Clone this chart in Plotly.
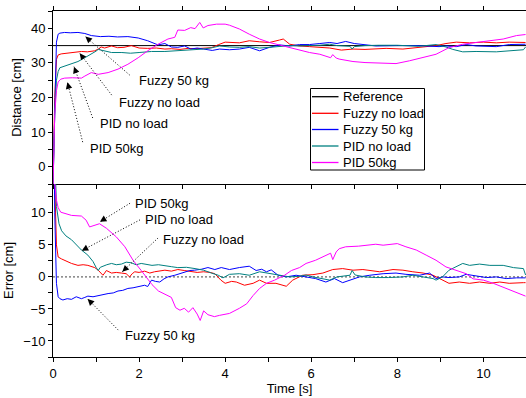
import math
import plotly.graph_objects as go

FONT = "Arial, Liberation Sans, sans-serif"

# ---------------- data ----------------
ref_t = [0, 11]
ref_d = [35, 35]

# Distance panel
fz0_t = [0, 0.04, 0.08, 0.12, 0.19, 0.3, 0.43, 0.55, 0.66, 0.8, 0.97, 1.05, 1.12, 1.2, 1.36, 1.5, 1.65, 1.82, 2.0, 2.2, 2.4, 2.6, 2.75, 2.95, 3.14, 3.3, 3.5, 3.68, 3.85, 4.0, 4.33, 4.56, 4.8, 5.03, 5.26, 5.35, 5.5, 5.73, 5.96, 6.2, 6.43, 6.7, 6.97, 7.25, 7.5, 7.74, 8.13, 8.52, 8.9, 9.13, 9.37, 9.68, 10.0, 10.3, 10.6, 10.98]
fz0_d = [-6, 20, 31, 32.3, 32.6, 32.8, 33.0, 33.1, 33.3, 33.2, 33.5, 34.0, 34.6, 34.3, 34.9, 34.4, 34.5, 35.0, 34.3, 34.2, 34.3, 34.0, 34.1, 33.9, 34.2, 34.1, 34.3, 34.4, 35.3, 36.0, 35.8, 36.4, 36.1, 35.9, 36.6, 36.9, 35.4, 34.9, 34.7, 34.4, 34.3, 33.7, 34.0, 33.9, 34.1, 34.2, 34.0, 34.4, 35.0, 35.6, 36.0, 35.8, 36.0, 35.8, 36.0, 35.9]

fz50_t = [0, 0.04, 0.08, 0.12, 0.16, 0.27, 0.4, 0.58, 0.74, 0.89, 1.0, 1.1, 1.3, 1.5, 1.74, 1.98, 2.2, 2.44, 2.6, 2.75, 2.9, 3.06, 3.2, 3.35, 3.5, 3.7, 3.87, 4.1, 4.33, 4.56, 4.8, 5.03, 5.26, 5.5, 5.73, 5.96, 6.2, 6.43, 6.6, 6.8, 7.0, 7.25, 7.5, 8.0, 8.5, 8.97, 9.13, 9.37, 9.6, 9.83, 10.3, 10.6, 10.98]
fz50_d = [-6, 20, 36, 38.3, 38.6, 38.8, 38.7, 38.8, 38.5, 37.9, 37.8, 37.6, 37.7, 37.5, 37.6, 37.2, 36.4, 35.2, 35.6, 34.6, 34.5, 34.9, 34.0, 34.3, 34.0, 33.6, 34.0, 33.8, 34.0, 34.5, 33.5, 34.5, 35.2, 34.9, 35.3, 35.3, 35.6, 35.9, 35.6, 36.2, 35.6, 35.2, 34.9, 35.0, 35.0, 34.7, 34.9, 34.7, 35.3, 34.9, 34.7, 35.3, 35.4]

pid0_t = [0, 0.04, 0.08, 0.12, 0.16, 0.27, 0.43, 0.58, 0.74, 0.89, 1.0, 1.05, 1.2, 1.36, 1.6, 1.8, 2.0, 2.29, 2.6, 2.9, 3.3, 3.5, 3.7, 3.87, 4.1, 4.33, 4.56, 4.8, 5.03, 5.26, 5.5, 5.73, 6.0, 6.2, 6.43, 6.6, 6.9, 6.95, 7.0, 7.25, 7.56, 8.0, 8.5, 8.9, 9.13, 9.29, 9.52, 9.83, 10.3, 10.7, 10.93, 10.98]
pid0_d = [-6, 15, 25, 27.5, 28.6, 29.1, 29.6, 30.4, 31.5, 32.5, 33.4, 33.9, 33.4, 33.0, 33.0, 32.8, 33.0, 33.3, 33.3, 33.5, 33.7, 34.0, 34.4, 34.9, 34.6, 34.5, 34.7, 34.3, 34.5, 34.8, 35.0, 34.9, 35.0, 35.1, 35.4, 35.0, 34.8, 34.0, 34.7, 35.0, 35.1, 35.1, 34.8, 35.3, 34.6, 33.9, 33.2, 33.3, 33.2, 33.6, 33.8, 34.6]

pid50_t = [0, 0.04, 0.08, 0.12, 0.18, 0.27, 0.45, 0.66, 0.74, 0.89, 1.05, 1.28, 1.51, 1.74, 1.98, 2.2, 2.44, 2.67, 2.83, 2.9, 3.06, 3.2, 3.3, 3.41, 3.49, 3.6, 3.8, 4.0, 4.1, 4.33, 4.56, 4.8, 5.03, 5.26, 5.5, 5.73, 5.96, 6.2, 6.34, 6.45, 6.5, 6.58, 6.65, 6.97, 7.25, 7.56, 7.97, 8.28, 8.59, 8.9, 9.2, 9.52, 9.83, 10.15, 10.46, 10.77, 10.98]
pid50_d = [-6, 15, 22, 24.5, 25.3, 25.6, 25.7, 25.6, 26.2, 27.2, 26.7, 27.2, 28.2, 29.6, 31.5, 33.5, 35.4, 36.9, 37.4, 39.5, 39.4, 40.2, 39.9, 41.7, 40.1, 40.8, 41.2, 41.2, 40.9, 39.8, 38.3, 36.9, 35.9, 35.2, 34.6, 33.7, 33.0, 32.5, 32.0, 31.5, 32.4, 31.4, 31.1, 30.4, 30.1, 30.0, 29.8, 30.6, 31.5, 32.5, 34.4, 35.4, 35.9, 36.4, 36.9, 37.9, 38.2]

# Error panel
zero_t = [0, 11]
zero_e = [0, 0]

fz0e_t = [0, 0.04, 0.08, 0.12, 0.2, 0.27, 0.43, 0.58, 0.7, 0.81, 0.97, 1.05, 1.16, 1.2, 1.24, 1.36, 1.47, 1.59, 1.7, 1.78, 1.84, 1.9, 2.0, 2.13, 2.25, 2.36, 2.48, 2.6, 2.75, 2.9, 3.05, 3.2, 3.35, 3.5, 3.65, 3.76, 3.9, 4.0, 4.15, 4.26, 4.45, 4.65, 4.8, 4.96, 5.18, 5.42, 5.57, 5.8, 6.04, 6.27, 6.5, 6.73, 6.97, 7.2, 7.43, 7.59, 7.9, 8.13, 8.36, 8.6, 8.83, 9.07, 9.2, 9.44, 9.68, 9.91, 10.15, 10.38, 10.6, 10.93, 10.98]
fz0e_e = [41, 15, 5, 3.1, 2.8, 2.6, 2.1, 1.8, 1.9, 1.8, 1.45, 1.05, 0.26, 0.6, 1.0, 0.6, 0.7, 0.6, 0.5, 0.0, 0.5, 0.8, 0.7, 0.9, 0.6, 0.8, 0.9, 1.05, 0.9, 1.15, 1.0, 0.9, 0.7, 0.8, 0.7, 0.5, -0.5, -1.0, -0.7, -0.8, -1.3, -1.0, -0.5, -1.0, -1.0, -1.46, -0.5, 0.26, 0.35, 0.6, 1.15, 1.3, 1.05, 1.15, 0.9, 0.8, 1.15, 1.05, 0.8, 0.6, 0.26, -0.5, -1.0, -0.8, -1.0, -0.8, -1.0, -0.8, -1.0, -0.9, -0.9]

fz50e_t = [0, 0.04, 0.08, 0.12, 0.16, 0.23, 0.33, 0.43, 0.54, 0.66, 0.74, 0.81, 0.93, 1.05, 1.17, 1.28, 1.4, 1.51, 1.62, 1.74, 1.86, 1.98, 2.13, 2.2, 2.29, 2.38, 2.48, 2.58, 2.67, 2.83, 2.95, 3.06, 3.18, 3.29, 3.45, 3.6, 3.76, 3.91, 4.1, 4.33, 4.56, 4.72, 4.85, 4.96, 5.07, 5.23, 5.42, 5.65, 5.88, 6.1, 6.34, 6.54, 6.73, 6.93, 7.12, 7.36, 7.67, 7.97, 8.2, 8.52, 8.75, 8.9, 9.05, 9.2, 9.44, 9.6, 9.83, 10.07, 10.3, 10.53, 10.77, 10.98]
fz50e_e = [41, 10, -1, -3.1, -3.4, -3.6, -3.4, -3.5, -3.1, -3.4, -3.2, -3.0, -3.1, -2.9, -2.8, -2.6, -2.5, -2.2, -2.1, -1.8, -1.7, -1.56, -1.3, -1.5, -0.5, -0.7, -0.8, -0.3, 0, 0.26, 0.5, 0.8, 1.0, 1.05, 1.2, 1.46, 1.15, 1.46, 1.15, 1.46, 1.67, 1.0, 1.2, 0.8, 1.1, 0.26, 0, 0.26, 0, -0.26, -0.8, -0.26, -0.9, -0.5, 0, 0.26, 0.5, 0.6, 0.4, 0.26, 0.6, -0.26, 0, -0.1, 0, 0.4, 0.1, -0.1, 0, -0.26, -0.15, -0.15]

pid0e_t = [0, 0.04, 0.08, 0.14, 0.2, 0.3, 0.43, 0.55, 0.66, 0.81, 0.93, 1.0, 1.05, 1.1, 1.16, 1.25, 1.36, 1.47, 1.59, 1.7, 1.82, 1.93, 2.05, 2.17, 2.3, 2.45, 2.6, 2.75, 2.9, 3.1, 3.3, 3.5, 3.68, 3.84, 3.95, 4.1, 4.33, 4.56, 4.8, 5.03, 5.26, 5.5, 5.73, 5.88, 6.04, 6.27, 6.43, 6.6, 6.9, 6.95, 7.02, 7.25, 7.5, 7.8, 8.13, 8.36, 8.6, 8.83, 8.9, 9.05, 9.2, 9.37, 9.52, 9.68, 9.91, 10.15, 10.46, 10.7, 10.93, 10.98]
pid0e_e = [41, 20, 11, 8.3, 7.2, 6.4, 5.8, 5.0, 4.2, 3.4, 2.4, 1.5, 1.0, 1.5, 1.7, 1.9, 2.1, 1.9, 2.0, 2.3, 2.2, 1.9, 2.1, 2.0, 1.8, 1.9, 1.7, 1.6, 1.45, 1.5, 1.3, 1.05, 0.6, 0.26, -0.15, 0.4, 0.5, 0.26, 0.8, 0.5, 0.26, 0, 0.1, 0.3, 0, -0.26, -0.5, 0, 0.26, 1.0, 0.3, 0, -0.1, -0.1, 0.0, 0.26, 0, -0.26, -0.5, 0, 1.04, 1.56, 2.1, 1.8, 2.0, 1.8, 1.8, 1.45, 1.3, 0.3]

pid50e_t = [0, 0.04, 0.08, 0.12, 0.18, 0.3, 0.43, 0.66, 0.77, 0.85, 0.97, 1.08, 1.24, 1.47, 1.67, 1.86, 2.05, 2.17, 2.3, 2.45, 2.6, 2.75, 2.85, 2.95, 3.05, 3.15, 3.25, 3.35, 3.42, 3.5, 3.6, 3.75, 3.87, 4.1, 4.33, 4.5, 4.65, 4.8, 4.96, 5.15, 5.38, 5.54, 5.73, 5.88, 6.1, 6.26, 6.38, 6.45, 6.5, 6.58, 6.65, 6.8, 7.1, 7.25, 7.5, 7.67, 8.0, 8.2, 8.44, 8.67, 8.9, 9.13, 9.37, 9.6, 9.76, 10.0, 10.23, 10.46, 10.7, 10.93, 10.98]
pid50e_e = [41, 14.5, 12, 10.8, 10.1, 9.8, 9.6, 9.5, 8.85, 7.8, 8.1, 8.3, 7.6, 6.25, 4.7, 2.6, 1.0, 0, -1.2, -2.2, -2.7, -3.2, -4.8, -5.2, -4.9, -5.5, -4.8, -5.8, -6.8, -5.3, -5.9, -6.2, -6.0, -5.7, -4.9, -4.2, -2.9, -1.8, -1.0, -0.5, 0.26, 1.0, 1.46, 2.1, 2.6, 3.1, 3.5, 3.7, 2.7, 3.9, 4.4, 4.7, 4.8, 4.9, 5.1, 4.95, 5.2, 4.7, 4.2, 3.4, 2.6, 1.56, 1.0, 0.5, -0.3, -0.5, -1.0, -1.6, -2.3, -2.9, -3.0]

series_names = ["Reference", "Fuzzy no load", "Fuzzy 50 kg", "PID no load", "PID 50kg"]
series_colors = ["#000000", "#ff0000", "#0000ff", "#008080", "#ff00ff"]

# annotation labels
top_labels = ["Fuzzy 50 kg", "Fuzzy no load", "PID no load", "PID 50kg"]
top_text_pos = [(1.945, 24.8), (1.48, 18.7), (1.04, 12.6), (0.806, 5.4)]
top_tail = [(1.78, 26.5), (1.364, 20.7), (0.922, 14.1), (0.69, 7.1)]
top_head = [(0.753, 37.6), (0.62, 32.8), (0.488, 28.9), (0.335, 24.4)]

bot_labels = ["PID 50kg", "PID no load", "Fuzzy no load", "Fuzzy 50 kg"]
bot_text_pos = [(1.86, 11.5), (2.09, 8.9), (2.51, 5.9), (1.63, -9.2)]
bot_tail = [(1.79, 11.5), (2.02, 8.9), (2.44, 6.07), (1.517, -8.3)]
bot_head = [(1.09, 8.6), (0.667, 4.1), (1.61, 0.81), (0.806, -3.45)]

# ---------------- figure ----------------
W, H = 526, 398
ML, MR, MT, MB = 53, 0, 11, 41
PW, PH = W - ML - MR, H - MT - MB
XR = [0, 10.99]
Y1R = [-5, 45]
Y2R = [-12.5, 14.5]

fig = go.Figure()

top_sets = [(ref_t, ref_d), (fz0_t, fz0_d), (fz50_t, fz50_d), (pid0_t, pid0_d), (pid50_t, pid50_d)]
for (tt, vv), nm, col in zip(top_sets, series_names, series_colors):
    fig.add_trace(go.Scatter(x=tt, y=vv, mode="lines", name=nm, showlegend=False,
                             line=dict(color=col, width=1), xaxis="x", yaxis="y"))

fig.add_trace(go.Scatter(x=zero_t, y=zero_e, mode="lines", showlegend=False,
                         line=dict(color="#444444", width=1, dash="2px,2px"), xaxis="x2", yaxis="y2"))
bot_sets = [(fz0e_t, fz0e_e), (fz50e_t, fz50e_e), (pid0e_t, pid0e_e), (pid50e_t, pid50e_e)]
for (tt, vv), nm, col in zip(bot_sets, series_names[1:], series_colors[1:]):
    fig.add_trace(go.Scatter(x=tt, y=vv, mode="lines", name=nm, showlegend=False,
                             line=dict(color=col, width=1), xaxis="x2", yaxis="y2"))

shapes = []
annotations = []

def px_scale(yr):
    return (PH / 2) / (yr[1] - yr[0])

xs = PW / (XR[1] - XR[0])

def add_pointers(labels, tpos, tails, heads, xref, yref, yr):
    ys = px_scale(yr)
    for lab, (tx, ty), (ax_, ay_), (hx, hy) in zip(labels, tpos, tails, heads):
        annotations.append(dict(x=tx, y=ty, xref=xref, yref=yref, text=lab, showarrow=False,
                                xanchor="left", yanchor="middle",
                                font=dict(family=FONT, size=13, color="black")))
        shapes.append(dict(type="line", xref=xref, yref=yref, x0=ax_, y0=ay_, x1=hx, y1=hy,
                           line=dict(color="black", width=1, dash="1px,2px")))
        dx = (ax_ - hx) * xs
        dy = -(ay_ - hy) * ys
        L = math.hypot(dx, dy)
        annotations.append(dict(x=hx, y=hy, xref=xref, yref=yref, text="", showarrow=True,
                                ax=dx * 7 / L, ay=dy * 7 / L, arrowhead=2, arrowsize=1.3,
                                arrowwidth=1, arrowcolor="black"))

add_pointers(top_labels, top_text_pos, top_tail, top_head, "x", "y", Y1R)
add_pointers(bot_labels, bot_text_pos, bot_tail, bot_head, "x2", "y2", Y2R)

# legend box (drawn in paper coords)
def ppx(px):
    return (px - ML) / PW

def ppy(py):
    return (H - MB - py) / PH

shapes.append(dict(type="rect", xref="paper", yref="paper", x0=ppx(310.5), x1=ppx(424.5),
                   y0=ppy(170), y1=ppy(88.5), line=dict(color="black", width=1),
                   fillcolor="white", layer="above"))
leg_y = [96.7, 113.3, 129.5, 146, 162.5]
for nm, col, yy in zip(series_names, series_colors, leg_y):
    shapes.append(dict(type="line", xref="paper", yref="paper", x0=ppx(312), x1=ppx(338.5),
                       y0=ppy(yy), y1=ppy(yy), line=dict(color=col, width=1.3), layer="above"))
    annotations.append(dict(x=ppx(340.5), y=ppy(yy), xref="paper", yref="paper", text=nm,
                            showarrow=False, xanchor="left", yanchor="middle",
                            font=dict(family=FONT, size=13, color="black")))

axis_common = dict(showgrid=False, zeroline=False, showline=True, linecolor="black", linewidth=1,
                   ticks="outside", ticklen=4, tickwidth=1, tickcolor="black",
                   tickfont=dict(family=FONT, size=13, color="black"))

fig.update_layout(
    width=W, height=H,
    margin=dict(l=ML, r=MR, t=MT, b=MB, pad=0),
    paper_bgcolor="white", plot_bgcolor="white",
    showlegend=False,
    font=dict(family=FONT, size=13, color="black"),
    xaxis=dict(domain=[0, 1], anchor="y", range=XR, tick0=0, dtick=1, showticklabels=False,
               mirror="ticks", **axis_common),
    yaxis=dict(domain=[0.5, 1], anchor="x", range=Y1R, tick0=0, dtick=10,
               minor=dict(dtick=5, ticks="outside", ticklen=4, tickcolor="black"),
               title=dict(text="Distance [cm]", font=dict(family=FONT, size=13), standoff=6),
               **axis_common),
    xaxis2=dict(domain=[0, 1], anchor="y2", range=XR, tick0=0, dtick=2,
                minor=dict(dtick=1, ticks="outside", ticklen=4, tickcolor="black"),
                title=dict(text="Time [s]", font=dict(family=FONT, size=13), standoff=4),
                **axis_common),
    yaxis2=dict(domain=[0, 0.5], anchor="x2", range=Y2R, tick0=0, dtick=5,
                minor=dict(dtick=2.5, ticks="outside", ticklen=4, tickcolor="black"),
                title=dict(text="Error [cm]", font=dict(family=FONT, size=13), standoff=6),
                **axis_common),
    shapes=shapes,
    annotations=annotations,
)

fig.write_html("out.html")
